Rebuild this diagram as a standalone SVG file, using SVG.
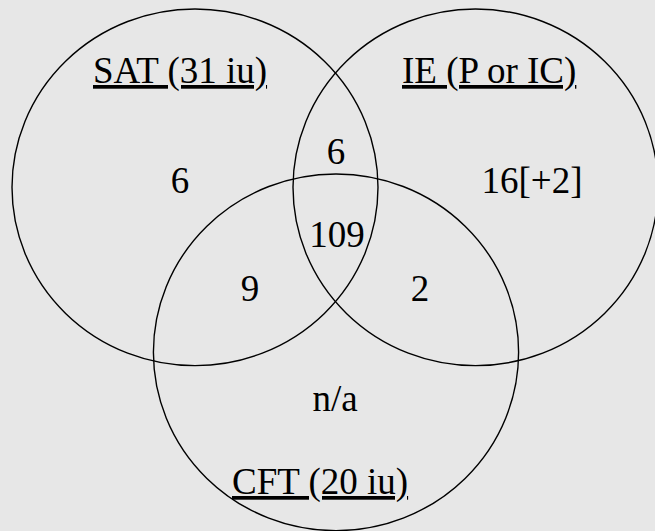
<svg xmlns="http://www.w3.org/2000/svg" width="655" height="531" viewBox="0 0 655 531">
  <style>
    .set { fill: none; stroke: #000; stroke-width: 1.4; }
    text { font-family: 'Liberation Serif', 'Times New Roman', serif; font-size: 37px; fill: #000; }
    .lbl { text-decoration: underline; text-decoration-skip-ink: none; }
    .num { text-anchor: middle; }
  </style>
  <rect width="655" height="531" fill="#e7e7e7"/>
  <g id="sat">
    <ellipse class="set" cx="195" cy="187.3" rx="183" ry="178.3"/>
    <text class="lbl" x="93" y="83">SAT (31 iu)</text>
  </g>
  <g id="ie">
    <ellipse class="set" cx="475.5" cy="187.3" rx="182.5" ry="178.3"/>
    <text class="lbl" x="402" y="83">IE (P or IC)</text>
  </g>
  <g id="cft">
    <ellipse class="set" cx="336" cy="352.3" rx="182.6" ry="178.3"/>
    <text class="lbl" x="232" y="494">CFT (20 iu)</text>
  </g>
  <g id="regions">
    <text class="num" x="180" y="193">6</text>
    <text class="num" x="336" y="164">6</text>
    <text class="num" x="532" y="193">16[+2]</text>
    <text class="num" x="337" y="247">109</text>
    <text class="num" x="250" y="301">9</text>
    <text class="num" x="420" y="301">2</text>
    <text class="num" x="335" y="411">n/a</text>
  </g>
</svg>
